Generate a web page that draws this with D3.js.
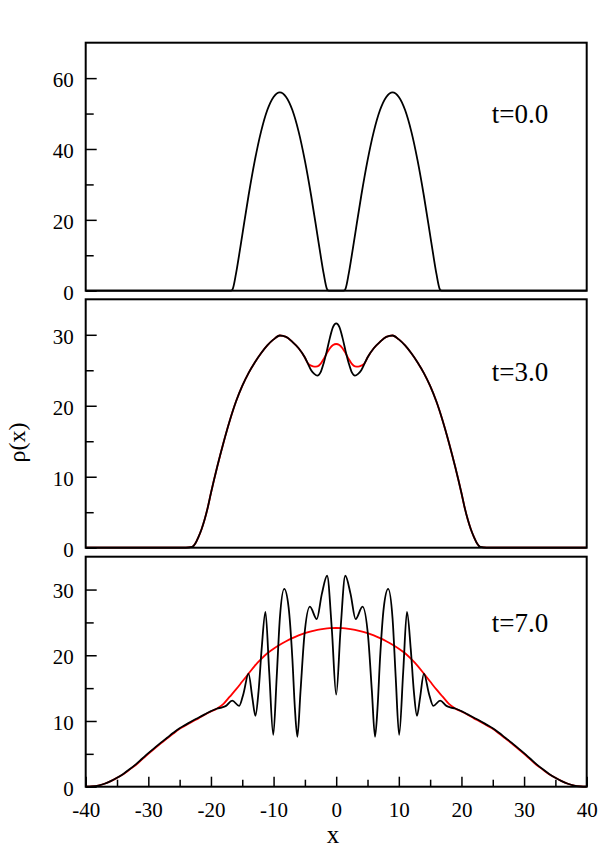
<!DOCTYPE html>
<html>
<head>
<meta charset="utf-8">
<script src="https://cdn.jsdelivr.net/npm/d3@7"></script>
<style>
  body { margin: 0; background: #fff; }
  text { font-family: "Liberation Serif", "Times New Roman", serif; }
</style>
</head>
<body>
<script>
// ---- data ----
const xTicks      = [-40, -30, -20, -10, 0, 10, 20, 30, 40];
const xMinorTicks = [-35, -25, -15, -5, 5, 15, 25, 35];

// t = 0.0
const x0   = [-40, -17, -16.7, -16.5, -16, -15.5, -15, -14, -13, -12, -11, -10, -9, -8, -7, -6, -5, -4, -3, -2.5, -2, -1.5, -1.3, -1,
              1, 1.3, 1.5, 2, 2.5, 3, 4, 5, 6, 7, 8, 9, 10, 11, 12, 13, 14, 15, 15.5, 16, 16.5, 16.7, 17, 40];
const rho0 = [0, 0, 0.1, 0.6, 4.8, 10.1, 15.7, 26.8, 36.7, 44.9, 51.0, 54.7, 56, 54.7, 51.0, 44.9, 36.7, 26.8, 15.7, 10.1, 4.8, 0.6, 0.1, 0,
              0, 0.1, 0.6, 4.8, 10.1, 15.7, 26.8, 36.7, 44.9, 51.0, 54.7, 56, 54.7, 51.0, 44.9, 36.7, 26.8, 15.7, 10.1, 4.8, 0.6, 0.1, 0, 0];

// t = 3.0
const x3      = [-40, -24, -23, -22.5, -22, -21.5, -21, -20.5, -20, -19, -18, -17, -16, -15, -14, -13, -12, -11, -10, -9, -8, -7, -6, -5,
                 -4.5, -4, -3.5, -3, -2.5, -2, -1.5, -1, -0.5, 0, 0.5, 1, 1.5, 2, 2.5, 3, 3.5, 4, 4.5,
                 5, 6, 7, 8, 9, 10, 11, 12, 13, 14, 15, 16, 17, 18, 19, 20, 20.5, 21, 21.5, 22, 22.5, 23, 24, 40];
const rho3    = [0, 0, 0.1, 0.6, 1.5, 2.6, 4.0, 5.7, 7.7, 11.4, 14.8, 17.9, 20.6, 22.8, 24.6, 26.1, 27.4, 28.5, 29.35, 29.9, 29.7, 29.0, 28.1, 26.8,
                 25.9, 25.0, 24.5, 24.25, 24.7, 26.0, 27.7, 29.6, 31.1, 31.6, 31.1, 29.6, 27.7, 26.0, 24.7, 24.25, 24.5, 25.0, 25.9,
                 26.8, 28.1, 29.0, 29.7, 29.9, 29.35, 28.5, 27.4, 26.1, 24.6, 22.8, 20.6, 17.9, 14.8, 11.4, 7.7, 5.7, 4.0, 2.6, 1.5, 0.6, 0.1, 0, 0];
const rho3Mf  = [0, 0, 0.1, 0.6, 1.5, 2.6, 4.0, 5.7, 7.7, 11.4, 14.8, 17.9, 20.6, 22.8, 24.6, 26.1, 27.4, 28.5, 29.35, 29.9, 29.7, 29.0, 28.1, 26.8,
                 25.95, 25.65, 25.5, 25.55, 25.9, 26.6, 27.4, 28.1, 28.55, 28.7, 28.55, 28.1, 27.4, 26.6, 25.9, 25.55, 25.5, 25.65, 25.95,
                 26.8, 28.1, 29.0, 29.7, 29.9, 29.35, 28.5, 27.4, 26.1, 24.6, 22.8, 20.6, 17.9, 14.8, 11.4, 7.7, 5.7, 4.0, 2.6, 1.5, 0.6, 0.1, 0, 0];

// t = 7.0
const x7   = [-40, -39, -38, -37, -36, -35, -34, -33, -32, -31, -30, -29, -28, -27, -26, -25, -24, -23, -22, -21, -20, -19,
              -18.3, -17.6, -16.6, -15.5, -14.8, -14.0, -13.4, -12.9, -12.4, -11.9, -11.3, -10.7, -10.05, -9.5, -9.0, -8.3,
              -7.6, -7.0, -6.6, -6.2, -5.7, -5.1, -4.2, -3.1, -2.3, -1.45, -0.7, 0,
              0.7, 1.45, 2.3, 3.1, 4.2, 5.1, 5.7, 6.2, 6.6, 7.0, 7.6,
              8.3, 9.0, 9.5, 10.05, 10.7, 11.3, 11.9, 12.4, 12.9, 13.4, 14.0, 14.8, 15.5, 16.6, 17.6, 18.3,
              19, 20, 21, 22, 23, 24, 25, 26, 27, 28, 29, 30, 31, 32, 33, 34, 35, 36, 37, 38, 39, 40];
const rho7 = [0, 0.05, 0.18, 0.45, 0.85, 1.35, 1.95, 2.65, 3.4, 4.25, 5.1, 5.9, 6.7, 7.45, 8.2, 8.9, 9.45, 10.0, 10.5, 11.0, 11.5, 11.9,
              12.05, 12.3, 13.1, 12.3, 14.2, 17.2, 13.6, 10.8, 14.5, 21.0, 26.6, 17.5, 7.9, 16.7, 25.6, 30.1,
              27.3, 19.5, 12.0, 7.6, 14.5, 22.8, 27.4, 25.5, 29.3, 32.1, 24.0, 14.0,
              24.0, 32.1, 29.3, 25.5, 27.4, 22.8, 14.5, 7.6, 12.0, 19.5, 27.3,
              30.1, 25.6, 16.7, 7.9, 17.5, 26.6, 21.0, 14.5, 10.8, 13.6, 17.2, 14.2, 12.3, 13.1, 12.3, 12.05,
              11.9, 11.5, 11.0, 10.5, 10.0, 9.45, 8.9, 8.2, 7.45, 6.7, 5.9, 5.1, 4.25, 3.4, 2.65, 1.95, 1.35, 0.85, 0.45, 0.18, 0.05, 0];
const x7Mf   = [-40, -39, -38, -37, -36, -35, -34, -33, -32, -31, -30, -29, -28, -27, -26, -25, -24, -23, -22, -21, -20, -19,
                -18, -17, -16, -15, -14, -13, -12, -11, -10, -9, -8, -7, -6, -5, -4, -3, -2, -1, 0,
                1, 2, 3, 4, 5, 6, 7, 8, 9, 10, 11, 12, 13, 14, 15, 16, 17, 18,
                19, 20, 21, 22, 23, 24, 25, 26, 27, 28, 29, 30, 31, 32, 33, 34, 35, 36, 37, 38, 39, 40];
const rho7Mf = [0, 0.05, 0.18, 0.45, 0.85, 1.35, 1.9, 2.6, 3.3, 4.15, 5.0, 5.8, 6.6, 7.35, 8.1, 8.8, 9.35, 9.9, 10.4, 10.95, 11.45, 11.9,
                12.6, 13.7, 14.8, 16.0, 17.2, 18.4, 19.4, 20.3, 21.0, 21.6, 22.13, 22.6, 23.02, 23.36, 23.65, 23.87, 24.02, 24.12, 24.15,
                24.12, 24.02, 23.87, 23.65, 23.36, 23.02, 22.6, 22.13, 21.6, 21.0, 20.3, 19.4, 18.4, 17.2, 16.0, 14.8, 13.7, 12.6,
                11.9, 11.45, 10.95, 10.4, 9.9, 9.35, 8.8, 8.1, 7.35, 6.6, 5.8, 5.0, 4.15, 3.3, 2.6, 1.9, 1.35, 0.85, 0.45, 0.18, 0.05, 0];

// ---- layout ----
const width = 599, height = 856;
const left = 85.7, right = 586.7;

const panels = [
  { top: 42.7,  bottom: 290.7, yMax: 70, major: [0, 20, 40, 60], minor: [10, 30, 50],
    label: "t=0.0", labelY: 123.3,
    series: [{ x: x0, y: rho0, color: "#000" }] },
  { top: 299.3, bottom: 547.7, yMax: 35, major: [0, 10, 20, 30], minor: [5, 15, 25],
    label: "t=3.0", labelY: 381,
    series: [{ x: x3, y: rho3Mf, color: "#ff0000" }, { x: x3, y: rho3, color: "#000" }] },
  { top: 556.7, bottom: 786.7, yMax: 35, major: [0, 10, 20, 30], minor: [5, 15, 25],
    label: "t=7.0", labelY: 631.7, xAxis: true,
    series: [{ x: x7Mf, y: rho7Mf, color: "#ff0000" }, { x: x7, y: rho7, color: "#000" }] }
];

const svg = d3.select("body")
  .append("svg")
  .attr("width", width)
  .attr("height", height);

const x = d3.scaleLinear().domain([-40, 40]).range([left, right]);

panels.forEach(p => {
  const y = d3.scaleLinear().domain([0, p.yMax]).range([p.bottom, p.top]);
  const g = svg.append("g");

  const line = d3.line()
    .x(d => x(d[0]))
    .y(d => y(d[1]))
    .curve(d3.curveMonotoneX);

  // curves
  p.series.forEach(s => {
    g.append("path")
      .datum(s.x.map((v, i) => [v, s.y[i]]))
      .attr("d", line)
      .attr("fill", "none")
      .attr("stroke", s.color)
      .attr("stroke-width", 1.8)
      .attr("stroke-linejoin", "round");
  });

  // y ticks (inside)
  const yAxis = g.append("g")
    .attr("transform", `translate(${left},0)`)
    .call(d3.axisLeft(y).tickValues(p.major).tickSizeInner(-11).tickSizeOuter(0)
      .tickPadding(12).tickFormat(d => String(d)));
  yAxis.select(".domain").remove();
  yAxis.selectAll("line").attr("stroke", "#000").attr("stroke-width", 1.5);
  yAxis.selectAll("text").attr("font-size", 21).attr("dy", "0.4em").attr("fill", "#000");

  const yMinor = g.append("g")
    .attr("transform", `translate(${left},0)`)
    .call(d3.axisLeft(y).tickValues(p.minor).tickSizeInner(-8).tickSizeOuter(0).tickFormat(""));
  yMinor.select(".domain").remove();
  yMinor.selectAll("line").attr("stroke", "#000").attr("stroke-width", 1.5);

  if (p.xAxis) {
    const xAxis = g.append("g")
      .attr("transform", `translate(0,${p.bottom})`)
      .call(d3.axisBottom(x).tickValues(xTicks).tickSizeInner(-10).tickSizeOuter(0)
        .tickPadding(15).tickFormat(d => String(d)));
    xAxis.select(".domain").remove();
    xAxis.selectAll("line").attr("stroke", "#000").attr("stroke-width", 1.5);
    xAxis.selectAll("text").attr("font-size", 21).attr("fill", "#000");

    const xMinor = g.append("g")
      .attr("transform", `translate(0,${p.bottom})`)
      .call(d3.axisBottom(x).tickValues(xMinorTicks).tickSizeInner(-7).tickSizeOuter(0).tickFormat(""));
    xMinor.select(".domain").remove();
    xMinor.selectAll("line").attr("stroke", "#000").attr("stroke-width", 1.5);
  }

  // frame
  g.append("rect")
    .attr("x", left)
    .attr("y", p.top)
    .attr("width", right - left)
    .attr("height", p.bottom - p.top)
    .attr("fill", "none")
    .attr("stroke", "#000")
    .attr("stroke-width", 2);

  // time label
  g.append("text")
    .attr("x", 491.7)
    .attr("y", p.labelY)
    .attr("font-size", 27)
    .text(p.label);
});

// axis titles
svg.append("text")
  .attr("x", 333)
  .attr("y", 842.5)
  .attr("text-anchor", "middle")
  .attr("font-size", 25)
  .text("x");

svg.append("text")
  .attr("transform", "translate(25,442.5) rotate(-90)")
  .attr("text-anchor", "middle")
  .attr("font-size", 24)
  .text("ρ(x)");
</script>
</body>
</html>
